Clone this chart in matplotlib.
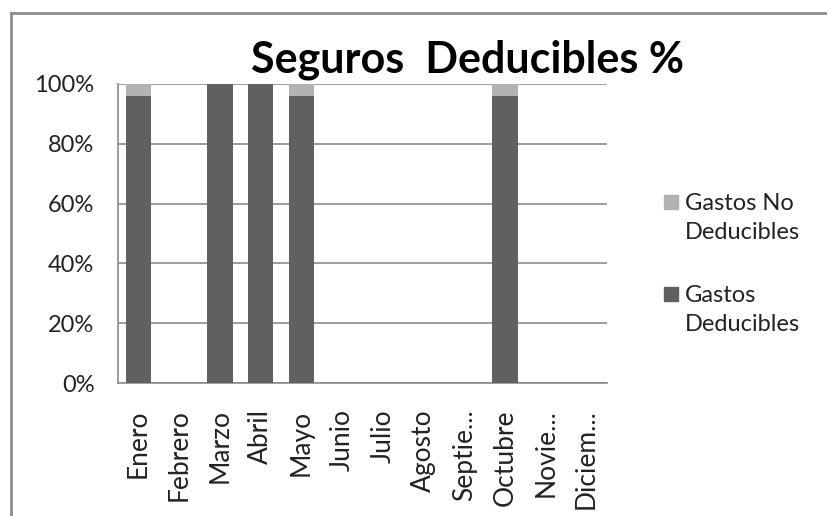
import numpy as np
from matplotlib import pyplot as plt
from matplotlib.lines import Line2D
from matplotlib.patches import Rectangle

meses = ["Enero", "Febrero", "Marzo", "Abril", "Mayo", "Junio", "Julio",
         "Agosto", "Septie...", "Octubre", "Novie...", "Diciem..."]
deducibles = [0.96, 0, 1.0, 1.0, 0.96, 0, 0, 0, 0, 0.96, 0, 0]
no_deducibles = [0.04, 0, 0, 0, 0.04, 0, 0, 0, 0, 0.04, 0, 0]
series = ["Gastos No\nDeducibles", "Gastos\nDeducibles"]
colores = ["#b2b2b2", "#606060"]

plt.rcParams["font.family"] = ["Lato", "DejaVu Sans"]

fig = plt.figure(figsize=(8.27, 5.16), dpi=100)
ax = fig.add_axes([118 / 827, 1 - 383 / 516, (607 - 118) / 827, (383 - 84) / 516])

x = np.arange(len(meses))
ax.bar(x, deducibles, width=0.62, color=colores[1], zorder=3)
ax.bar(x, no_deducibles, width=0.62, bottom=deducibles, color=colores[0], zorder=3)

ax.set_xlim(-0.5, len(meses) - 0.5)
ax.set_ylim(0, 1)
ax.set_yticks([0, 0.2, 0.4, 0.6, 0.8, 1.0])
ax.set_yticklabels(["0%", "20%", "40%", "60%", "80%", "100%"])
ax.set_xticks(x)
ax.set_xticklabels(meses, rotation=90)
ax.tick_params(axis="y", length=0, pad=17, labelsize=17, labelcolor="#222222")
ax.tick_params(axis="x", length=0, pad=19, labelsize=19, labelcolor="#222222")
ax.grid(axis="y", color="#8c8c8c", linewidth=1.2, zorder=0)
for s in ["top", "right"]:
    ax.spines[s].set_visible(False)
for s in ["left", "bottom"]:
    ax.spines[s].set_color("#8c8c8c")
    ax.spines[s].set_linewidth(1.2)

fig.text(467 / 827, 1 - 60 / 516, "Seguros  Deducibles %", ha="center", va="center",
         fontsize=31, fontweight="bold", color="black")

# leyenda a mano: el cuadro va alineado con la primera linea del texto
for i, (lab, col) in enumerate(zip(series, colores)):
    yc = 202 + i * 92
    fig.add_artist(Rectangle((664 / 827, 1 - (yc + 7) / 516), 14 / 827, 14 / 516,
                             transform=fig.transFigure, color=col))
    fig.text(685 / 827, 1 - (yc + 16) / 516, lab, ha="left", va="center",
             fontsize=17, color="#222222", linespacing=1.45)

# borde exterior del grafico
fig.add_artist(Line2D([11 / 827, 11 / 827], [0, 1 - 13 / 516], color="#8c8c8c", linewidth=2))
fig.add_artist(Line2D([11 / 827, 1], [1 - 13 / 516, 1 - 13 / 516], color="#8c8c8c", linewidth=2))

fig.savefig("out.png", dpi=100)
